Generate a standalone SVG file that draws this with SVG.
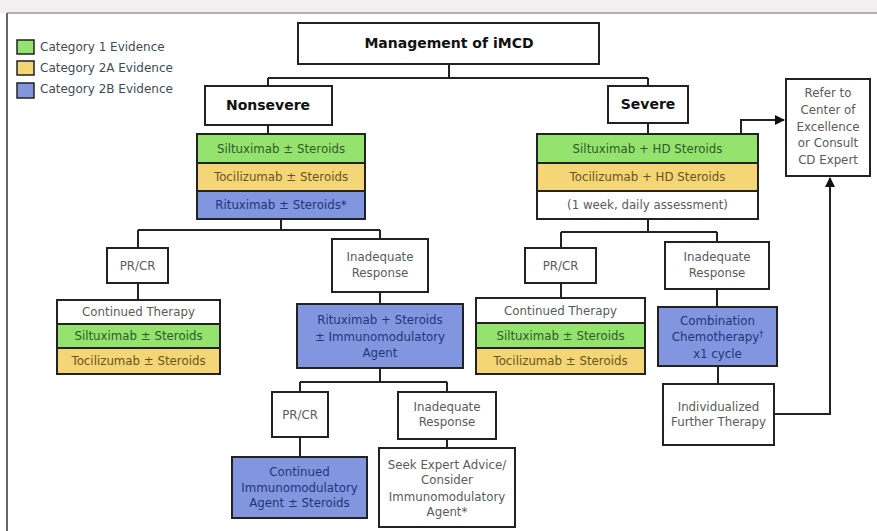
<svg xmlns="http://www.w3.org/2000/svg" width="877" height="531" viewBox="0 0 877 531">
<defs>
<style>
.box{fill:#fff;stroke:#222;stroke-width:2}
.g{fill:#95e36f;stroke:#222;stroke-width:2}
.y{fill:#f4d677;stroke:#222;stroke-width:2}
.b{fill:#8196de;stroke:#222;stroke-width:2}
.w{fill:#fff;stroke:#222;stroke-width:2}
text{font-family:"DejaVu Sans","Liberation Sans",sans-serif;font-size:11.8px;text-anchor:middle}
.t{fill:#5a5a5a}
.tg{fill:#2f5a2a}
.ty{fill:#6a5520}
.tb{fill:#22357a}
.h{font-weight:bold;font-size:14px;fill:#111}
.lg{text-anchor:start;fill:#3d4a58;font-size:12px}
.c{fill:none;stroke:#222;stroke-width:2}
</style>
<marker id="ah" viewBox="0 0 10 10" refX="9" refY="5" markerWidth="5" markerHeight="5" orient="auto" markerUnits="strokeWidth">
<path d="M0,0 L10,5 L0,10 z" fill="#111"/>
</marker>
</defs>
<rect x="0" y="0" width="877" height="531" fill="#fff"/>
<rect x="0" y="0" width="877" height="13" fill="#f2eff1"/>
<line x1="7" y1="13" x2="877" y2="13" stroke="#9a9a9a" stroke-width="1.5"/>
<line x1="7" y1="13" x2="7" y2="531" stroke="#666" stroke-width="2"/>

<g id="legend">
<rect x="17" y="40" width="17" height="14" fill="#95e36f" stroke="#222" stroke-width="1.5"/>
<rect x="17" y="61" width="17" height="14" fill="#f4d677" stroke="#222" stroke-width="1.5"/>
<rect x="17" y="83" width="17" height="15" fill="#8196de" stroke="#222" stroke-width="1.5"/>
<text class="lg" x="40" y="51">Category 1 Evidence</text>
<text class="lg" x="40" y="72">Category 2A Evidence</text>
<text class="lg" x="40" y="93">Category 2B Evidence</text>
</g>

<g id="connectors">
<path class="c" d="M449,64 V78 M268,78 H648 M268,78 V86 M648,78 V86"/>
<path class="c" d="M268,125 V134 M648,123 V134"/>
<path class="c" d="M281,219 V230 M138,230 H380 M138,230 V248 M380,230 V239"/>
<path class="c" d="M138,283 V300 M380,292 V304"/>
<path class="c" d="M380,368 V382 M300,382 H447 M300,382 V392 M447,382 V392"/>
<path class="c" d="M300,437 V457 M447,439 V448"/>
<path class="c" d="M648,219 V232 M561,232 H717 M561,232 V248 M717,232 V242"/>
<path class="c" d="M561,283 V298 M717,289 V307 M718,366 V384"/>
<path class="c" d="M741,134 V120 H784" marker-end="url(#ah)"/>
<path class="c" d="M774,414 H830 V178" marker-end="url(#ah)"/>
</g>

<g id="title">
<rect class="box" x="298" y="23" width="301" height="41"/>
<text class="h" x="449" y="48">Management of iMCD</text>
</g>

<g id="nonsevere">
<rect class="box" x="205" y="86" width="127" height="39"/>
<text class="h" x="268" y="110">Nonsevere</text>
</g>

<g id="severe">
<rect class="box" x="608" y="86" width="80" height="37"/>
<text class="h" x="648" y="109">Severe</text>
</g>

<g id="ns-therapy">
<rect class="g" x="197" y="134" width="168" height="29"/>
<rect class="y" x="197" y="163" width="168" height="28"/>
<rect class="b" x="197" y="191" width="168" height="28"/>
<text class="tg" x="281" y="152.5">Siltuximab ± Steroids</text>
<text class="ty" x="281" y="181">Tocilizumab ± Steroids</text>
<text class="tb" x="281" y="209">Rituximab ± Steroids*</text>
</g>

<g id="sv-therapy">
<rect class="g" x="537" y="134" width="221" height="29"/>
<rect class="y" x="537" y="163" width="221" height="28"/>
<rect class="w" x="537" y="191" width="221" height="28"/>
<text class="tg" x="647.5" y="152.5">Siltuximab + HD Steroids</text>
<text class="ty" x="647.5" y="181">Tocilizumab + HD Steroids</text>
<text class="t" x="647.5" y="209">(1 week, daily assessment)</text>
</g>

<g id="refer">
<rect class="box" x="786" y="79" width="84" height="97"/>
<text class="t" x="828" y="97">Refer to</text>
<text class="t" x="828" y="114">Center of</text>
<text class="t" x="828" y="131">Excellence</text>
<text class="t" x="828" y="147">or Consult</text>
<text class="t" x="828" y="164">CD Expert</text>
</g>

<g id="ns-prcr">
<rect class="box" x="107" y="248" width="61" height="35"/>
<text class="t" x="137.5" y="269.5">PR/CR</text>
</g>

<g id="ns-continued">
<rect class="w" x="57" y="300" width="163" height="24"/>
<rect class="g" x="57" y="324" width="163" height="24"/>
<rect class="y" x="57" y="348" width="163" height="26"/>
<text class="t" x="138.5" y="316">Continued Therapy</text>
<text class="tg" x="138.5" y="340">Siltuximab ± Steroids</text>
<text class="ty" x="138.5" y="365">Tocilizumab ± Steroids</text>
</g>

<g id="ns-inadequate">
<rect class="box" x="332" y="239" width="96" height="53"/>
<text class="t" x="380" y="261">Inadequate</text>
<text class="t" x="380" y="277">Response</text>
</g>

<g id="ns-rituximab">
<rect class="b" x="297" y="304" width="166" height="64"/>
<text class="tb" x="380" y="324">Rituximab + Steroids</text>
<text class="tb" x="380" y="341">± Immunomodulatory</text>
<text class="tb" x="380" y="357">Agent</text>
</g>

<g id="ns2-prcr">
<rect class="box" x="272" y="392" width="56" height="45"/>
<text class="t" x="300" y="419">PR/CR</text>
</g>

<g id="ns2-inadequate">
<rect class="box" x="398" y="392" width="98" height="47"/>
<text class="t" x="447" y="411">Inadequate</text>
<text class="t" x="447" y="426">Response</text>
</g>

<g id="ns2-continued">
<rect class="b" x="232" y="457" width="135" height="61"/>
<text class="tb" x="299.5" y="476">Continued</text>
<text class="tb" x="299.5" y="492">Immunomodulatory</text>
<text class="tb" x="299.5" y="507">Agent ± Steroids</text>
</g>

<g id="ns2-seek">
<rect class="box" x="379" y="448" width="136" height="79"/>
<text class="t" x="447" y="469">Seek Expert Advice/</text>
<text class="t" x="447" y="484">Consider</text>
<text class="t" x="447" y="501">Immunomodulatory</text>
<text class="t" x="447" y="516">Agent*</text>
</g>

<g id="sv-prcr">
<rect class="box" x="525" y="248" width="71" height="35"/>
<text class="t" x="560.5" y="269.5">PR/CR</text>
</g>

<g id="sv-continued">
<rect class="w" x="476" y="298" width="169" height="25"/>
<rect class="g" x="476" y="323" width="169" height="25"/>
<rect class="y" x="476" y="348" width="169" height="26"/>
<text class="t" x="560.5" y="314.5">Continued Therapy</text>
<text class="tg" x="560.5" y="339.5">Siltuximab ± Steroids</text>
<text class="ty" x="560.5" y="365">Tocilizumab ± Steroids</text>
</g>

<g id="sv-inadequate">
<rect class="box" x="665" y="242" width="104" height="47"/>
<text class="t" x="717" y="261">Inadequate</text>
<text class="t" x="717" y="277">Response</text>
</g>

<g id="sv-chemo">
<rect class="b" x="658" y="307" width="119" height="59"/>
<text class="tb" x="717.5" y="325">Combination</text>
<text class="tb" x="717.5" y="341">Chemotherapy<tspan font-size="8" dy="-4">†</tspan></text>
<text class="tb" x="717.5" y="358">x1 cycle</text>
</g>

<g id="sv-individualized">
<rect class="box" x="663" y="384" width="111" height="61"/>
<text class="t" x="718.5" y="411">Individualized</text>
<text class="t" x="718.5" y="426">Further Therapy</text>
</g>
</svg>
